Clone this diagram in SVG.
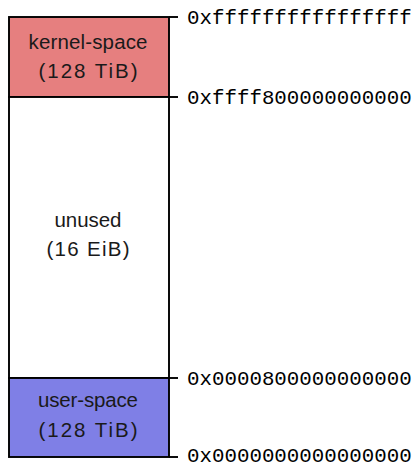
<svg xmlns="http://www.w3.org/2000/svg" width="414" height="465" viewBox="0 0 414 465">
<style>
.box{stroke:#000;stroke-width:1.9}
.lbl{font-family:"Liberation Sans","DejaVu Sans",sans-serif;font-size:20.5px;text-anchor:middle;fill:#1a1a1a}
.addr{font-family:"Liberation Mono","DejaVu Sans Mono",monospace;font-size:20.8px;fill:#000}
.tick{stroke:#000;stroke-width:1.9}
</style>
<rect width="414" height="465" fill="#fff"/>
<g id="kernel">
<rect class="box" x="9" y="17" width="160" height="80" fill="#e67f7f"/>
<text class="lbl" x="88" y="49" textLength="119" lengthAdjust="spacing">kernel-space</text>
<text class="lbl" x="88" y="78" textLength="99" lengthAdjust="spacing">(128 TiB)</text>
</g>
<g id="unused">
<rect class="box" x="9" y="97" width="160" height="281" fill="#fff"/>
<text class="lbl" x="88" y="227" textLength="67" lengthAdjust="spacing">unused</text>
<text class="lbl" x="88" y="256" textLength="83" lengthAdjust="spacing">(16 EiB)</text>
</g>
<g id="user">
<rect class="box" x="9" y="378" width="160" height="79" fill="#7f7fe6"/>
<text class="lbl" x="88" y="407" textLength="100" lengthAdjust="spacing">user-space</text>
<text class="lbl" x="88" y="437" textLength="99" lengthAdjust="spacing">(128 TiB)</text>
</g>
<g id="connectors">
<line class="tick" x1="169" y1="17" x2="178" y2="17"/>
<line class="tick" x1="169" y1="97" x2="178" y2="97"/>
<line class="tick" x1="169" y1="378" x2="178" y2="378"/>
<line class="tick" x1="169" y1="457" x2="178" y2="457"/>
</g>
<g id="addresses">
<text class="addr" x="187" y="24">0xffffffffffffffff</text>
<text class="addr" x="187" y="104">0xffff800000000000</text>
<text class="addr" x="187" y="385">0x0000800000000000</text>
<text class="addr" x="187" y="462">0x0000000000000000</text>
</g>
</svg>
